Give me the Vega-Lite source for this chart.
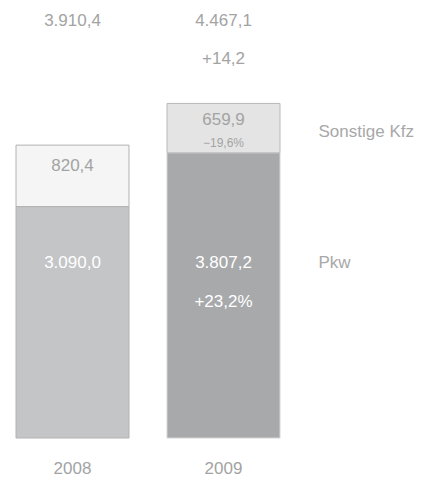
{
  "$schema": "https://vega.github.io/schema/vega-lite/v6.json",
  "autosize": "none",
  "width": 264,
  "height": 438,
  "padding": {"left": 16, "top": 0, "right": 141, "bottom": 41},
  "background": "white",
  "config": {
    "view": {"stroke": null},
    "text": {"font": "Liberation Sans", "fontSize": 17, "baseline": "middle", "color": "#a3a3a3"}
  },
  "datasets": {
    "bars": [
      {"year": "2008", "type": "Pkw", "value": 3090.0, "key": "2008 Pkw"},
      {"year": "2008", "type": "Sonstige Kfz", "value": 820.4, "key": "2008 Sonstige Kfz"},
      {"year": "2009", "type": "Pkw", "value": 3807.2, "key": "2009 Pkw"},
      {"year": "2009", "type": "Sonstige Kfz", "value": 659.9, "key": "2009 Sonstige Kfz"}
    ],
    "totals": [
      {"year": "2008", "total": 3910.4, "label": "3.910,4"},
      {"year": "2009", "total": 4467.1, "label": "4.467,1"}
    ],
    "pkw": [
      {"year": "2008", "label": "3.090,0"},
      {"year": "2009", "label": "3.807,2"}
    ]
  },
  "encoding": {
    "x": {
      "field": "year",
      "type": "nominal",
      "scale": {"domain": ["2008", "2009"], "paddingInner": 0.2517, "paddingOuter": 0},
      "axis": {"title": null, "domain": false, "ticks": false, "labelAngle": 0, "labelPadding": 22, "labelFont": "Liberation Sans", "labelFontSize": 17, "labelColor": "#a3a3a3"}
    }
  },
  "layer": [
    {
      "data": {"name": "bars"},
      "mark": {"type": "bar", "strokeWidth": 1},
      "encoding": {
        "y": {"field": "value", "type": "quantitative", "stack": "zero", "scale": {"domain": [0, 5848], "nice": false}, "axis": null},
        "order": {"field": "type", "sort": "ascending"},
        "fill": {
          "field": "key", "type": "nominal", "legend": null,
          "scale": {"domain": ["2008 Pkw", "2008 Sonstige Kfz", "2009 Pkw", "2009 Sonstige Kfz"], "range": ["#c4c5c7", "#f4f5f4", "#a8a9ab", "#e3e4e3"]}
        },
        "stroke": {
          "field": "key", "type": "nominal", "legend": null,
          "scale": {"domain": ["2008 Pkw", "2008 Sonstige Kfz", "2009 Pkw", "2009 Sonstige Kfz"], "range": ["#b2b2b2", "#b2b2b2", "#d6d6d6", "#b8b8b8"]}
        }
      }
    },
    {
      "data": {"name": "totals"},
      "mark": {"type": "text"},
      "encoding": {
        "y": {"datum": 5568, "type": "quantitative"},
        "text": {"field": "label"}
      }
    },
    {
      "data": {"values": [{"year": "2009", "label": "+14,2"}]},
      "mark": {"type": "text"},
      "encoding": {
        "y": {"datum": 5060, "type": "quantitative"},
        "text": {"field": "label"}
      }
    },
    {
      "data": {"values": [{"year": "2008", "total": 3910.4, "label": "820,4"}]},
      "mark": {"type": "text", "dy": 21},
      "encoding": {
        "y": {"field": "total", "type": "quantitative"},
        "text": {"field": "label"}
      }
    },
    {
      "data": {"values": [{"year": "2009", "total": 4467.1, "label": "659,9"}]},
      "mark": {"type": "text", "dy": 17},
      "encoding": {
        "y": {"field": "total", "type": "quantitative"},
        "text": {"field": "label"}
      }
    },
    {
      "data": {"values": [{"year": "2009", "total": 4467.1, "label": "−19,6%"}]},
      "mark": {"type": "text", "dy": 40, "fontSize": 12},
      "encoding": {
        "y": {"field": "total", "type": "quantitative"},
        "text": {"field": "label"}
      }
    },
    {
      "data": {"name": "pkw"},
      "mark": {"type": "text", "color": "white"},
      "encoding": {
        "y": {"datum": 2330, "type": "quantitative"},
        "text": {"field": "label"}
      }
    },
    {
      "data": {"values": [{"year": "2009", "label": "+23,2%"}]},
      "mark": {"type": "text", "color": "white"},
      "encoding": {
        "y": {"datum": 1822, "type": "quantitative"},
        "text": {"field": "label"}
      }
    },
    {
      "data": {"values": [{"year": "2009", "label": "Sonstige Kfz"}]},
      "mark": {"type": "text", "align": "left", "dx": 95, "color": "#a8a8a8"},
      "encoding": {
        "y": {"datum": 4086, "type": "quantitative"},
        "text": {"field": "label"}
      }
    },
    {
      "data": {"values": [{"year": "2009", "label": "Pkw"}]},
      "mark": {"type": "text", "align": "left", "dx": 95, "color": "#a8a8a8"},
      "encoding": {
        "y": {"datum": 2330, "type": "quantitative"},
        "text": {"field": "label"}
      }
    }
  ]
}
